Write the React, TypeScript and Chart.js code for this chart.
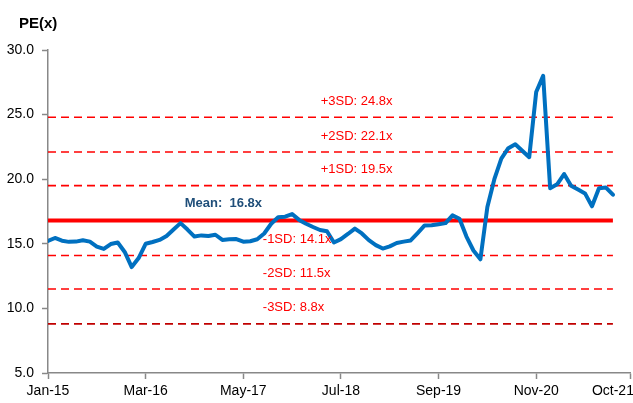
import React, { useEffect, useRef } from 'react';
import { Chart, registerables } from 'chart.js';

Chart.register(...registerables);

// Monthly PE(x), Jan-15 .. Oct-21
const peValues = [
  15.22, 15.45, 15.24, 15.15, 15.17, 15.28, 15.17, 14.79, 14.6, 14.98,
  15.1, 14.37, 13.2, 13.9, 15.0, 15.14, 15.3, 15.6, 16.1, 16.6,
  16.1, 15.56, 15.65, 15.6, 15.7, 15.3, 15.35, 15.37, 15.16, 15.2,
  15.35, 15.8, 16.55, 17.05, 17.1, 17.3, 16.85, 16.55, 16.3, 16.07,
  15.97, 15.1, 15.36, 15.76, 16.18, 15.8, 15.28, 14.9, 14.63, 14.8,
  15.06, 15.17, 15.26, 15.83, 16.42, 16.43, 16.52, 16.6, 17.2, 16.94,
  15.56, 14.48, 13.8, 17.85, 20.0, 21.6, 22.4, 22.7, 22.2, 21.7,
  26.75, 28.0, 19.3, 19.6, 20.4, 19.5, 19.2, 18.9, 17.9, 19.3,
  19.35, 18.8,
];

const tickPositions = [0, 14, 28, 42, 56, 70, 81];
const tickLabels = ['Jan-15', 'Mar-16', 'May-17', 'Jul-18', 'Sep-19', 'Nov-20', 'Oct-21'];
const axisEnd = 83.45;

const meanValue = 16.8;
const sdNames = ['+3SD', '+2SD', '+1SD', '-1SD', '-2SD', '-3SD'];
const sdValues = [24.8, 22.1, 19.5, 14.1, 11.5, 8.8];
const sdColors = ['#FF0000', '#FF0000', '#FF0000', '#FF0000', '#FF0000', '#C00000'];

const yMin = 5;
const yMax = 30;
const yStep = 5;

const FONT = "'Liberation Sans', Arial, sans-serif";

export default function App() {
  const ref = useRef<HTMLCanvasElement | null>(null);

  useEffect(() => {
    document.body.style.margin = '0';
    const canvas = ref.current;
    if (!canvas) return;

    const lastIdx = peValues.length - 1;
    const points = peValues.map((v, i) => ({ x: i, y: v }));

    const refSets = sdValues.map((v, k) => ({
      type: 'line' as const,
      data: [{ x: 0, y: v }, { x: lastIdx, y: v }],
      borderColor: sdColors[k],
      borderWidth: 1.6,
      borderDash: [8, 5],
      pointRadius: 0,
      fill: false,
      order: 3,
    }));

    const labelPlugin = {
      id: 'labels',
      afterDatasetsDraw(chart: any) {
        const { ctx, scales } = chart;
        const xs = scales.x;
        const ys = scales.y;
        ctx.save();
        ctx.textBaseline = 'middle';
        ctx.textAlign = 'left';
        // SD labels
        ctx.font = `13px ${FONT}`;
        sdValues.forEach((v, k) => {
          const upper = v > meanValue;
          const xPos = xs.getPixelForValue(upper ? 39.1 : 30.8);
          const yPos = ys.getPixelForValue(v) - (upper ? 16 : 16);
          ctx.fillStyle = '#FF0000';
          ctx.fillText(`${sdNames[k]}: ${v.toFixed(1)}x`, xPos, yPos);
        });
        // Mean label
        ctx.font = `bold 13px ${FONT}`;
        ctx.fillStyle = '#1F4E79';
        ctx.fillText(`Mean:  ${meanValue.toFixed(1)}x`, xs.getPixelForValue(19.6), ys.getPixelForValue(meanValue) - 17);
        // Title
        ctx.font = `bold 15px ${FONT}`;
        ctx.fillStyle = '#000';
        ctx.fillText('PE(x)', 19, 24);
        ctx.restore();
      },
    };

    const chart = new Chart(canvas, {
      type: 'line',
      data: {
        datasets: [
          {
            data: points,
            borderColor: '#0070C0',
            borderWidth: 4,
            pointRadius: 0,
            tension: 0,
            borderJoinStyle: 'round',
            borderCapStyle: 'round',
            fill: false,
            order: 1,
          },
          {
            data: [{ x: 0, y: meanValue }, { x: lastIdx, y: meanValue }],
            borderColor: '#FF0000',
            borderWidth: 4,
            pointRadius: 0,
            fill: false,
            order: 2,
          },
          ...refSets,
        ] as any,
      },
      options: {
        animation: false,
        responsive: false,
        devicePixelRatio: 1,
        layout: { padding: { top: 50, right: 3, left: 0, bottom: 0 } },
        plugins: {
          legend: { display: false },
          tooltip: { enabled: false },
          title: { display: false },
        },
        scales: {
          x: {
            type: 'linear',
            min: 0,
            max: axisEnd,
            afterBuildTicks: (scale: any) => {
              scale.ticks = [...tickPositions, axisEnd].map((v) => ({ value: v }));
            },
            afterFit: (scale: any) => {
              scale.height = 30;
              scale.paddingLeft = 0;
              scale.paddingRight = 0;
            },
            ticks: {
              autoSkip: false,
              maxRotation: 0,
              minRotation: 0,
              padding: 4,
              color: '#000',
              font: { family: FONT, size: 14 },
              callback: (value: any) => {
                const idx = tickPositions.indexOf(Number(value));
                return idx >= 0 ? tickLabels[idx] : '';
              },
            },
            grid: {
              drawOnChartArea: false,
              drawTicks: true,
              tickLength: 6,
              tickWidth: 1.5,
              tickColor: (c: any) => (c.tick && c.tick.value === tickPositions[tickPositions.length - 1] ? 'rgba(0,0,0,0)' : '#888888'),
            },
            border: { display: true, color: '#888888', width: 1.5 },
          },
          y: {
            type: 'linear',
            min: yMin,
            max: yMax,
            afterFit: (scale: any) => {
              scale.width = 48;
            },
            ticks: {
              stepSize: yStep,
              padding: 8,
              color: '#000',
              font: { family: FONT, size: 14 },
              callback: (value: any) => Number(value).toFixed(1),
            },
            grid: {
              drawOnChartArea: false,
              drawTicks: true,
              tickLength: 6,
              tickWidth: 1.5,
              tickColor: '#888888',
            },
            border: { display: true, color: '#888888', width: 1.5 },
          },
        },
      },
      plugins: [labelPlugin],
    });

    return () => chart.destroy();
  }, []);

  return (
    <div style={{ width: 633, height: 403 }}>
      <canvas ref={ref} width={633} height={403} style={{ display: 'block' }} />
    </div>
  );
}
